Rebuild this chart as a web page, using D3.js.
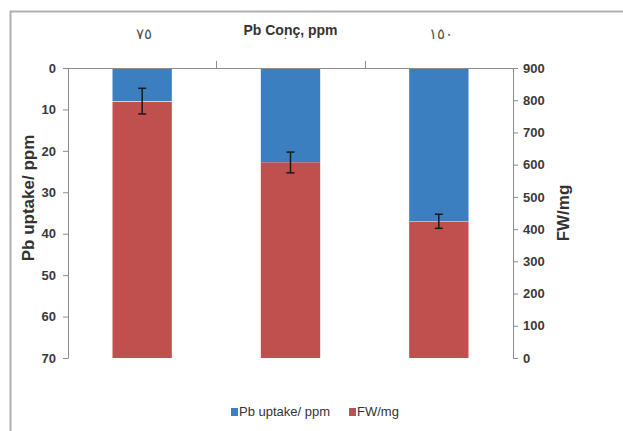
<!DOCTYPE html>
<html>
<head>
<meta charset="utf-8">
<script src="https://cdn.jsdelivr.net/npm/d3@7"></script>
<style>
  body { margin: 0; background: #fff; }
  text { font-family: "Liberation Sans", Arial, sans-serif; }
</style>
</head>
<body>
<div id="chart"></div>
<script>
// Chart data
var categories = ["٧٥", "١٠٠", "١٥٠"];
var pbUptake = [8.0, 22.8, 37.0];   // left axis, ppm
var pbError = [3.1, 2.5, 1.7];
var fwValues = [795, 607, 423];     // right axis, mg
var leftTicks = [0, 10, 20, 30, 40, 50, 60, 70];
var rightTicks = [0, 100, 200, 300, 400, 500, 600, 700, 800, 900];

var width = 623, height = 431;
var plotLeft = 68, plotRight = 513, plotTop = 68, plotBottom = 358;

var blue = "#3c7fc0", red = "#c0504d";

var svg = d3.select("#chart").append("svg")
  .attr("width", width)
  .attr("height", height);

// outer frame (only top and left edges are visible)
svg.append("path")
  .attr("d", "M10.5," + height + "V11.5H" + width)
  .attr("fill", "none")
  .attr("stroke", "#b0b0b0")
  .attr("stroke-width", 2);

var xScale = d3.scaleBand()
  .domain(categories)
  .range([plotLeft, plotRight])
  .paddingInner(0.6)
  .paddingOuter(0.3);

// band edges for the category tick marks
var xEdges = d3.scaleBand().domain(categories).range([plotLeft, plotRight]);

var yLeft = d3.scaleLinear().domain([0, 70]).range([plotTop, plotBottom]);
var yRight = d3.scaleLinear().domain([0, 900]).range([plotBottom, plotTop]);

// Pb uptake bars hang from the top
svg.selectAll("rect.pb")
  .data(pbUptake)
  .enter()
  .append("rect")
  .attr("class", "pb")
  .attr("x", function(d, i) { return xScale(categories[i]); })
  .attr("y", yLeft(0))
  .attr("width", xScale.bandwidth())
  .attr("height", function(d) { return yLeft(d) - yLeft(0); })
  .attr("fill", blue);

// FW bars rise from the bottom
svg.selectAll("rect.fw")
  .data(fwValues)
  .enter()
  .append("rect")
  .attr("class", "fw")
  .attr("x", function(d, i) { return xScale(categories[i]); })
  .attr("y", function(d) { return yRight(d); })
  .attr("width", xScale.bandwidth())
  .attr("height", function(d) { return yRight(0) - yRight(d); })
  .attr("fill", red);

// error bars on Pb uptake
var errG = svg.append("g")
  .attr("stroke", "#1a1a1a")
  .attr("stroke-width", 1.5);
pbUptake.forEach(function(d, i) {
  var cx = xScale(categories[i]) + xScale.bandwidth() / 2;
  var y1 = yLeft(d - pbError[i]), y2 = yLeft(d + pbError[i]);
  errG.append("line").attr("x1", cx).attr("x2", cx).attr("y1", y1).attr("y2", y2);
  errG.append("line").attr("x1", cx - 4).attr("x2", cx + 4).attr("y1", y1).attr("y2", y1);
  errG.append("line").attr("x1", cx - 4).attr("x2", cx + 4).attr("y1", y2).attr("y2", y2);
});

// left axis
var leftAxis = svg.append("g")
  .attr("transform", "translate(" + plotLeft + ",0)")
  .call(d3.axisLeft(yLeft).tickValues(leftTicks).tickSize(5).tickSizeOuter(0).tickPadding(7));

// right axis
var rightAxis = svg.append("g")
  .attr("transform", "translate(" + plotRight + ",0)")
  .call(d3.axisRight(yRight).tickValues(rightTicks).tickSize(5).tickSizeOuter(0).tickPadding(5));

[leftAxis, rightAxis].forEach(function(ax) {
  ax.selectAll("path, line").attr("stroke", "#8c8c8c");
  ax.selectAll("text")
    .attr("fill", "#3a3a3a")
    .style("font-size", "13px")
    .style("font-weight", "bold")
    .style("font-family", "'Liberation Sans', Arial, sans-serif");
});

// top category axis
svg.append("line")
  .attr("x1", plotLeft).attr("x2", plotRight)
  .attr("y1", plotTop + 0.5).attr("y2", plotTop + 0.5)
  .attr("stroke", "#8c8c8c");
categories.slice(1).forEach(function(c) {
  svg.append("line")
    .attr("x1", Math.round(xEdges(c)) + 0.5).attr("x2", Math.round(xEdges(c)) + 0.5)
    .attr("y1", plotTop).attr("y2", plotTop - 7)
    .attr("stroke", "#8c8c8c");
});
svg.selectAll("text.cat")
  .data(categories)
  .enter()
  .append("text")
  .attr("class", "cat")
  .attr("x", function(d) { return xScale(d) + xScale.bandwidth() / 2 + 2; })
  .attr("y", 39)
  .attr("text-anchor", "middle")
  .attr("fill", "#555")
  .style("font-size", "15px")
  .style("letter-spacing", "4px")
  .text(function(d) { return d; });

// chart title sits over the middle label
var titleX = (plotLeft + plotRight) / 2;
svg.append("rect")
  .attr("x", titleX - 52).attr("y", 21)
  .attr("width", 104).attr("height", 17)
  .attr("fill", "#fff")
  .attr("fill-opacity", 0.9);
svg.append("text")
  .attr("x", titleX)
  .attr("y", 35)
  .attr("text-anchor", "middle")
  .attr("fill", "#333")
  .style("font-size", "14px")
  .style("font-weight", "bold")
  .text("Pb Conç, ppm");

// axis titles
svg.append("text")
  .attr("transform", "translate(34,198) rotate(-90)")
  .attr("text-anchor", "middle")
  .attr("fill", "#333")
  .style("font-size", "17px")
  .style("font-weight", "bold")
  .text("Pb uptake/ ppm");

svg.append("text")
  .attr("transform", "translate(569,213) rotate(-90)")
  .attr("text-anchor", "middle")
  .attr("fill", "#333")
  .style("font-size", "17px")
  .style("font-weight", "bold")
  .text("FW/mg");

// legend
var legend = [
  { label: "Pb uptake/ ppm", color: blue, x: 231 },
  { label: "FW/mg", color: red, x: 349 }
];
var lg = svg.selectAll("g.legend")
  .data(legend)
  .enter()
  .append("g")
  .attr("class", "legend")
  .attr("transform", function(d) { return "translate(" + d.x + ",408)"; });
lg.append("rect")
  .attr("width", 7).attr("height", 8)
  .attr("fill", function(d) { return d.color; });
lg.append("text")
  .attr("x", 8)
  .attr("y", 8)
  .attr("fill", "#333")
  .style("font-size", "13px")
  .text(function(d) { return d.label; });
</script>
</body>
</html>
